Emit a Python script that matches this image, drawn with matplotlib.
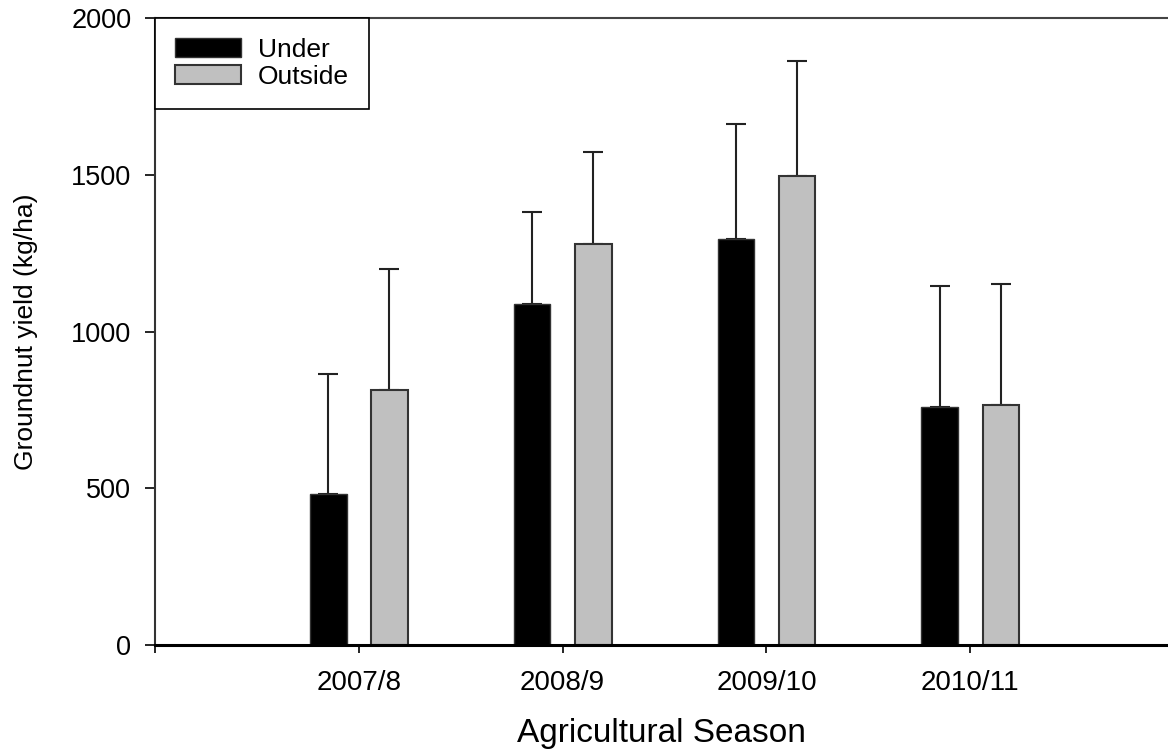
import numpy as np
import matplotlib.pyplot as plt

plt.rcParams['font.family'] = ['Liberation Sans', 'DejaVu Sans']

# data
seasons = ['2007/8', '2008/9', '2009/10', '2010/11']
under = [482, 1087, 1296, 759]
under_err = [383, 295, 366, 385]
outside = [812, 1278, 1496, 766]
outside_err = [386, 296, 366, 387]

x = np.arange(1, len(seasons) + 1)
width = 0.18
offset = 0.15

fig = plt.figure(figsize=(11.68, 7.51), dpi=100)
ax = fig.add_axes([155 / 1168, 106 / 751, 1 - 155 / 1168, 627 / 751])

# bars with upper error bars only
ax.bar(x - offset, under, width, color='black', edgecolor='#333333', linewidth=1,
       label='Under', zorder=2)
ax.bar(x + offset, outside, width, color='#c0c0c0', edgecolor='#333333', linewidth=1.5,
       label='Outside', zorder=2)
ax.errorbar(x - offset, under, yerr=[np.zeros(len(under)), under_err], fmt='none',
            ecolor='#222222', elinewidth=1.5, capsize=7.5, capthick=1.5, zorder=1)
ax.errorbar(x + offset, outside, yerr=[np.zeros(len(outside)), outside_err], fmt='none',
            ecolor='#222222', elinewidth=1.5, capsize=7.5, capthick=1.5, zorder=1)

ax.set_xlim(0, 4.97)
ax.set_ylim(0, 2000)
ax.set_xticks([0] + list(x))
ax.set_xticklabels([''] + seasons)
ax.set_yticks([0, 500, 1000, 1500, 2000])

ax.spines['right'].set_visible(False)
ax.spines['bottom'].set_linewidth(2.2)
ax.spines['top'].set_linewidth(1.5)
ax.spines['top'].set_color('#444444')
ax.spines['left'].set_linewidth(1.5)
ax.spines['left'].set_color('#333333')
ax.tick_params(axis='x', direction='out', length=6, width=1.2, labelsize=20, pad=12)
ax.tick_params(axis='y', direction='out', length=7, width=1.2, labelsize=19.5, pad=10)

ax.set_xlabel('Agricultural Season', fontsize=24, labelpad=16)
ax.set_ylabel('Groundnut yield (kg/ha)', fontsize=19, labelpad=24)

leg = ax.legend(loc='upper left', borderaxespad=0, fancybox=False, framealpha=1,
                edgecolor='black', fontsize=19, handlelength=2.5, handleheight=0.7,
                borderpad=0.75, labelspacing=0.12, handletextpad=0.65)
leg.get_frame().set_linewidth(1.2)

fig.savefig('out.png', dpi=100)
